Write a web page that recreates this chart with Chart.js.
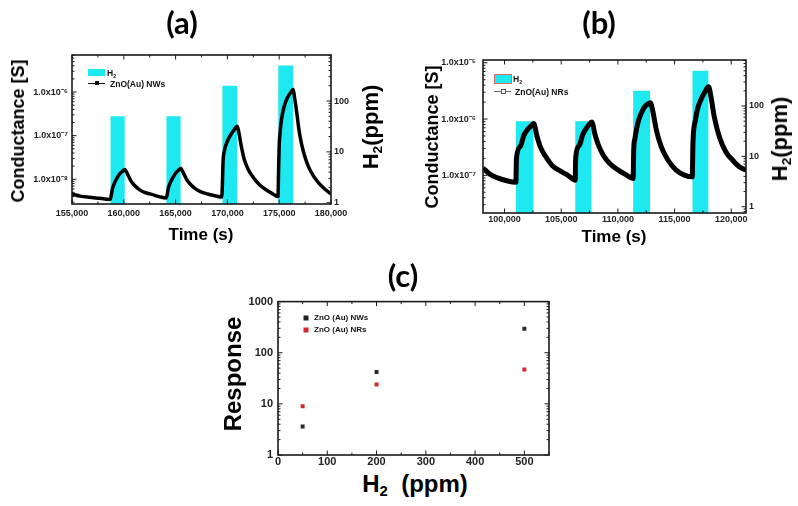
<!DOCTYPE html>
<html>
<head>
<meta charset="utf-8">
<title>ZnO(Au) H2 sensing</title>
<script src="https://cdn.jsdelivr.net/npm/chart.js@4.4.1/dist/chart.umd.min.js"></script>
<script>
// ---- panel (a): ZnO(Au) NWs ----
const timeA = [155000, 155800, 156700, 157700, 158600, 158700, 158900, 159100, 159350, 159600,
  159850, 160100, 160250, 160450, 160700, 161000, 161500, 162000, 162700, 163400,
  164100, 164300, 164500, 164750, 165000, 165250, 165500, 165650, 165850, 166100,
  166400, 166900, 167400, 168100, 168800, 169450, 169520, 169580, 169700, 169950,
  170250, 170600, 170950, 171100, 171300, 171600, 172000, 172500, 173100, 173800,
  174400, 174880, 174950, 175000, 175100, 175250, 175450, 175650, 175900, 176150,
  176350, 176500, 176700, 176900, 177100, 177400, 177800, 178300, 178800, 179400, 180000];
const condA = [4.6e-9, 4.1e-9, 3.85e-9, 3.65e-9, 3.45e-9, 3.5e-9, 6.0e-9, 8.2e-9, 1.07e-8, 1.32e-8,
  1.51e-8, 1.68e-8, 1.47e-8, 1.19e-8, 9.1e-9, 7.4e-9, 5.8e-9, 5.0e-9, 4.5e-9, 4.0e-9,
  3.7e-9, 6.3e-9, 8.5e-9, 1.1e-8, 1.37e-8, 1.58e-8, 1.78e-8, 1.55e-8, 1.25e-8, 9.6e-9,
  7.8e-9, 6.1e-9, 5.2e-9, 4.6e-9, 4.2e-9, 3.9e-9, 8.0e-9, 2.5e-8, 4.4e-8, 7.0e-8,
  9.8e-8, 1.31e-7, 1.65e-7, 1.2e-7, 6.5e-8, 3.0e-8, 1.7e-8, 1.1e-8, 7.5e-9, 5.6e-9,
  4.6e-9, 4.0e-9, 2.0e-8, 6.0e-8, 1.3e-7, 2.6e-7, 4.4e-7, 6.2e-7, 8.3e-7, 1.0e-6,
  1.15e-6, 7.0e-7, 3.3e-7, 1.4e-7, 7.5e-8, 3.8e-8, 2.0e-8, 1.2e-8, 8.3e-9, 6.0e-9, 4.6e-9];
const h2OnA = [158700, 164100, 169500, 174900];
const h2OffA = [160100, 165500, 170950, 176350];
const h2PpmA = [50, 50, 200, 500];
const timeTicksA = [155000, 160000, 165000, 170000, 175000, 180000];
const condTicksA = [1e-8, 1e-7, 1e-6];

// ---- panel (b): ZnO(Au) NRs ----
const timeB = [98100, 98700, 99400, 100200, 101000, 101050, 101400, 101700, 102000, 102300,
  102570, 102870, 103160, 103600, 104200, 104900, 105600, 106230, 106280, 106600,
  106900, 107200, 107450, 107690, 107990, 108290, 108700, 109300, 110000, 110700,
  111340, 111400, 111500, 111780, 112080, 112370, 112640, 112860, 113090, 113390,
  113830, 114410, 115140, 115870, 116560, 116620, 116840, 117040, 117340, 117630,
  118000, 118210, 118500, 118940, 119530, 120110, 120700, 121130, 121300];
const condB = [1.35e-7, 1.05e-7, 9.0e-8, 8.0e-8, 7.5e-8, 2.0e-7, 3.3e-7, 5.1e-7, 6.4e-7, 7.4e-7,
  8.3e-7, 4.9e-7, 3.2e-7, 2.2e-7, 1.5e-7, 1.2e-7, 1.0e-7, 8.2e-8, 2.1e-7, 3.4e-7,
  5.3e-7, 6.8e-7, 8.0e-7, 8.9e-7, 5.2e-7, 3.4e-7, 2.3e-7, 1.6e-7, 1.25e-7, 1.03e-7,
  8.8e-8, 3.0e-7, 4.5e-7, 8.8e-7, 1.3e-6, 1.65e-6, 1.85e-6, 1.95e-6, 1.35e-6, 6.4e-7,
  3.2e-7, 1.87e-7, 1.24e-7, 1.01e-7, 9.4e-8, 3.7e-7, 9.6e-7, 1.55e-6, 2.24e-6, 2.93e-6,
  3.75e-6, 2.5e-6, 1.1e-6, 4.9e-7, 2.6e-7, 1.87e-7, 1.42e-7, 1.29e-7, 1.25e-7];
const h2OnB = [101000, 106230, 111340, 116560];
const h2OffB = [102570, 107690, 112860, 118000];
const h2PpmB = [50, 50, 200, 500];
const timeTicksB = [100000, 105000, 110000, 115000, 120000];
const condTicksB = [1e-7, 1e-6, 1e-5];
const ppmTicks = [1, 10, 100];

// ---- panel (c): response vs H2 concentration ----
const concC = [50, 200, 500];
const respNWs = [3.6, 42, 295];
const respNRs = [9.0, 24, 47];
const concTicksC = [0, 100, 200, 300, 400, 500];
const respTicksC = [1, 10, 100, 1000];
</script>
<style>
  html, body { margin: 0; padding: 0; background: #fff; }
  #fig { position: relative; width: 798px; height: 506px; overflow: hidden;
         font-family: "Liberation Sans", Arial, sans-serif; }
  #fig canvas { position: absolute; }
  .t { position: absolute; font-weight: bold; color: #000; white-space: nowrap;
       line-height: 1; transform: translate(-50%, -50%); }
  .rot { transform: translate(-50%, -50%) rotate(-90deg); }
  .panel { font-family: Lato, "Open Sans", sans-serif; font-size: 31px; }
  .sub { font-size: 0.62em; position: relative; top: 0.3em; }
  .leg { position: absolute; font-size: 8.5px; font-weight: bold; color: #111;
         white-space: nowrap; line-height: 1; transform: translateY(-50%); }
  .box { position: absolute; background: #1ee8f0; }
  .sym { position: absolute; height: 0; width: 17px; border-top: 1.4px solid #111; }
  .sym i { position: absolute; left: 6.5px; top: -2.7px; width: 4px; height: 4px; background: #111; }
  .sym.open { border-top-color: #666; }
  .sym.open i { background: #fff; border: 1px solid #555; width: 3px; height: 3px; top: -3px; }
  .dot { position: absolute; width: 5px; height: 5px; transform: translate(-50%, -50%); }
</style>
</head>
<body>
<div id="fig">
  <canvas id="chartA" width="400" height="190" style="left:0;top:40px"></canvas>
  <canvas id="chartB" width="398" height="190" style="left:400px;top:40px"></canvas>
  <canvas id="chartC" width="320" height="180" style="left:240px;top:290px"></canvas>

  <div class="t panel" style="left:182px;top:22px">(a)</div>
  <div class="t panel" style="left:599px;top:22px">(b)</div>
  <div class="t panel" style="left:403px;top:275px">(c)</div>

  <div class="t rot" style="left:18px;top:131px;font-size:18px">Conductance [S]</div>
  <div class="t rot" style="left:371px;top:127px;font-size:22px">H<span class="sub">2</span>(ppm)</div>
  <div class="t" style="left:201px;top:234px;font-size:17px">Time (s)</div>

  <div class="t rot" style="left:432px;top:137px;font-size:18px">Conductance [S]</div>
  <div class="t rot" style="left:780px;top:139px;font-size:22px">H<span class="sub">2</span>(ppm)</div>
  <div class="t" style="left:614px;top:236px;font-size:17px">Time (s)</div>

  <div class="t rot" style="left:233px;top:374px;font-size:24px">Response</div>
  <div class="t" style="left:415px;top:484px;font-size:24px">H<span class="sub">2</span>&nbsp;&nbsp;(ppm)</div>

  <!-- legends -->
  <div class="box" style="left:88px;top:69px;width:17px;height:7px"></div>
  <div class="leg" style="left:107px;top:73px">H<span class="sub">2</span></div>
  <div class="sym" style="left:88px;top:83px"><i></i></div>
  <div class="leg" style="left:110px;top:84px">ZnO(Au) NWs</div>

  <div class="box" style="left:494px;top:74px;width:16px;height:8px;border:1px solid #e06a6a"></div>
  <div class="leg" style="left:513px;top:79px">H<span class="sub">2</span></div>
  <div class="sym open" style="left:494px;top:91px"><i></i></div>
  <div class="leg" style="left:515px;top:92px">ZnO(Au) NRs</div>

  <div class="dot" style="left:306px;top:318px;background:#222"></div>
  <div class="leg" style="left:314px;top:318px;font-size:8px">ZnO (Au) NWs</div>
  <div class="dot" style="left:306px;top:330px;background:#d62828"></div>
  <div class="leg" style="left:314px;top:330px;font-size:8px">ZnO (Au) NRs</div>
</div>

<script>
const CYAN = '#1ee8f0';
const tickFont = { family: '"Liberation Sans", Arial, sans-serif', size: 9, weight: 'bold' };
const SUP = { '-': '\u207B', '0': '\u2070', '1': '\u00B9', '2': '\u00B2', '3': '\u00B3',
  '4': '\u2074', '5': '\u2075', '6': '\u2076', '7': '\u2077', '8': '\u2078', '9': '\u2079' };

const pts = (xs, ys) => xs.map((x, i) => ({ x: x, y: ys[i] }));

// H2 on/off steps, broken between pulses
function pulses(on, off, ppm) {
  const out = [];
  on.forEach((t, i) => {
    out.push({ x: t, y: ppm[i] }, { x: off[i], y: ppm[i] }, { x: off[i], y: null });
  });
  return out;
}

function linTicks(major, min, max) {
  const step = major[1] - major[0];
  const list = major.filter(v => v >= min && v <= max).map(v => ({ value: v }));
  for (let v = major[0] - step / 2; v <= max; v += step) {
    if (v >= min) list.push({ value: v, minor: true });
  }
  return list.sort((a, b) => a.value - b.value);
}

function logTicks(major, min, max) {
  const list = major.filter(v => v >= min && v <= max).map(v => ({ value: v }));
  for (let e = Math.floor(Math.log10(min)); e <= Math.ceil(Math.log10(max)); e++) {
    for (let k = 2; k <= 9; k++) {
      const v = k * Math.pow(10, e);
      if (v >= min && v <= max) list.push({ value: v, minor: true });
    }
  }
  return list.sort((a, b) => a.value - b.value);
}

function sciLabel(v) {
  const e = Math.round(Math.log10(v));
  return '1.0x10' + String(e).split('').map(c => SUP[c]).join('');
}

// inward tick marks + box frame, Origin style
const frameTicks = {
  id: 'frameTicks',
  afterDatasetsDraw(chart, args, opts) {
    const { ctx, chartArea: a } = chart;
    ctx.save();
    ctx.strokeStyle = '#1a1a1a';
    ctx.lineWidth = 1;
    ctx.beginPath();
    Object.entries(opts.sides || {}).forEach(([id, sides]) => {
      const s = chart.scales[id];
      if (!s) return;
      s.ticks.forEach(t => {
        const len = t.minor ? 2.5 : 4.5;
        const p = s.getPixelForValue(t.value);
        sides.forEach(side => {
          if (side === 'bottom') { ctx.moveTo(p, a.bottom); ctx.lineTo(p, a.bottom - len); }
          if (side === 'top') { ctx.moveTo(p, a.top); ctx.lineTo(p, a.top + len); }
          if (side === 'left') { ctx.moveTo(a.left, p); ctx.lineTo(a.left + len, p); }
          if (side === 'right') { ctx.moveTo(a.right, p); ctx.lineTo(a.right - len, p); }
        });
      });
    });
    ctx.stroke();
    ctx.lineWidth = 1.6;
    ctx.strokeRect(a.left, a.top, a.right - a.left, a.bottom - a.top);
    ctx.restore();
  }
};

function xAxis(min, max, major, height, pad, font, fmt) {
  return {
    type: 'linear', position: 'bottom', min: min, max: max, bounds: 'data',
    grid: { display: false, drawTicks: false }, border: { display: false },
    afterBuildTicks: s => { s.ticks = linTicks(major, min, max); },
    afterFit: s => { s.height = height; },
    ticks: {
      autoSkip: false, maxRotation: 0, padding: pad, font: font, color: '#222',
      callback: (v, i, ticks) => ticks[i].minor ? '' : fmt(v)
    }
  };
}

function logAxis(pos, min, max, major, width, pad, font, fmt) {
  return {
    type: 'logarithmic', position: pos, min: min, max: max, bounds: 'data',
    grid: { display: false, drawTicks: false }, border: { display: false },
    afterBuildTicks: s => { s.ticks = logTicks(major, min, max); },
    afterFit: s => { s.width = width; },
    ticks: {
      autoSkip: false, padding: pad, font: font, color: '#222',
      callback: (v, i, ticks) => ticks[i].minor ? '' : fmt(v)
    }
  };
}

const commaFmt = v => v.toLocaleString('en-US');
const plainFmt = v => String(v);

function timeChart(id, cfg) {
  return new Chart(document.getElementById(id), {
    type: 'line',
    data: {
      datasets: [
        {
          label: 'H2', data: pulses(cfg.on, cfg.off, cfg.ppm), yAxisID: 'y1',
          backgroundColor: CYAN, borderWidth: 0, borderColor: CYAN, fill: 'start',
          pointRadius: 0, tension: 0, spanGaps: false, order: 2
        },
        {
          label: cfg.name, data: pts(cfg.time, cfg.cond), yAxisID: 'y',
          borderColor: '#000', borderWidth: cfg.lineWidth, pointRadius: 0,
          cubicInterpolationMode: 'monotone', fill: false, order: 1
        }
      ]
    },
    options: {
      responsive: false, animation: false, events: [],
      layout: { padding: { top: cfg.padTop, left: 0, right: 0, bottom: 0 } },
      plugins: {
        legend: { display: false }, title: { display: false }, tooltip: { enabled: false },
        frameTicks: { sides: { x: ['bottom', 'top'], y: ['left'], y1: ['right'] } }
      },
      scales: {
        x: xAxis(cfg.xMin, cfg.xMax, cfg.xTicks, cfg.xHeight, cfg.xPad, tickFont, commaFmt),
        y: logAxis('left', cfg.yMin, cfg.yMax, cfg.yTicks, cfg.yWidth, cfg.yPad, tickFont, sciLabel),
        y1: logAxis('right', cfg.ppmMin, cfg.ppmMax, ppmTicks, cfg.y1Width, 3, tickFont, plainFmt)
      }
    },
    plugins: [frameTicks]
  });
}

timeChart('chartA', {
  name: 'ZnO(Au) NWs', time: timeA, cond: condA, on: h2OnA, off: h2OffA, ppm: h2PpmA,
  xMin: 155000, xMax: 180000, xTicks: timeTicksA, yMin: 2.71e-9, yMax: 7.06e-6, yTicks: condTicksA,
  ppmMin: 0.943, ppmMax: 804, padTop: 15, xHeight: 26, xPad: 4, yWidth: 72, yPad: 4, y1Width: 69,
  lineWidth: 3.5
});

timeChart('chartB', {
  name: 'ZnO(Au) NRs', time: timeB, cond: condB, on: h2OnB, off: h2OffB, ppm: h2PpmB,
  xMin: 98100, xMax: 121300, xTicks: timeTicksB, yMin: 2.14e-8, yMax: 1.12e-5, yTicks: condTicksB,
  ppmMin: 0.75, ppmMax: 820, padTop: 20, xHeight: 17, xPad: 1, yWidth: 83, yPad: 7, y1Width: 52,
  lineWidth: 5
});

const tickFontC = { family: '"Liberation Sans", Arial, sans-serif', size: 11, weight: 'bold' };
new Chart(document.getElementById('chartC'), {
  type: 'scatter',
  data: {
    datasets: [
      {
        label: 'ZnO (Au) NWs', data: pts(concC, respNWs), pointStyle: 'rect',
        pointRadius: 2.8, backgroundColor: '#2a2a2a', borderColor: '#2a2a2a', borderWidth: 0
      },
      {
        label: 'ZnO (Au) NRs', data: pts(concC, respNRs), pointStyle: 'rect',
        pointRadius: 2.8, backgroundColor: '#d62828', borderColor: '#d62828', borderWidth: 0
      }
    ]
  },
  options: {
    responsive: false, animation: false, events: [],
    layout: { padding: { top: 8, left: 0, right: 11, bottom: 0 } },
    plugins: {
      legend: { display: false }, title: { display: false }, tooltip: { enabled: false },
      frameTicks: { sides: { x: ['bottom', 'top'], y: ['left', 'right'] } }
    },
    scales: {
      x: xAxis(0, 550, concTicksC, 15, 0, tickFontC, plainFmt),
      y: logAxis('left', 1, 1000, respTicksC, 38, 5, tickFontC, plainFmt)
    }
  },
  plugins: [frameTicks]
});
</script>
</body>
</html>
